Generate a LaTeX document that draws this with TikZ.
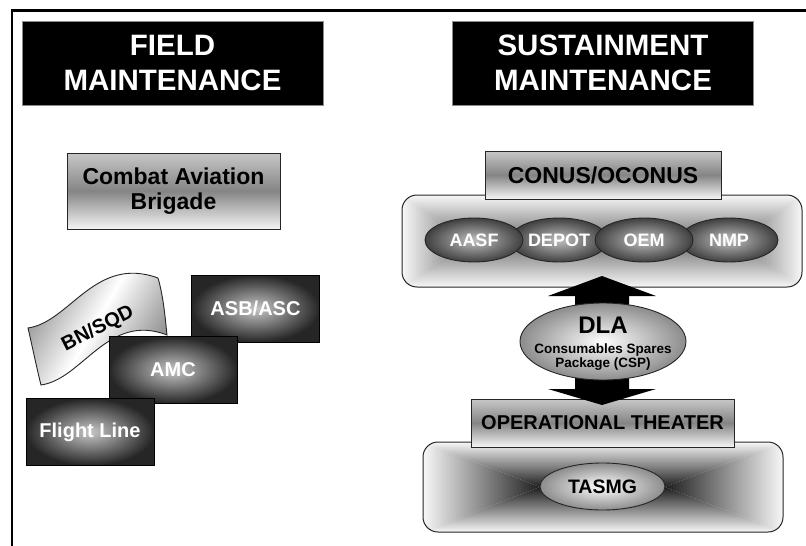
\documentclass[tikz,border=0pt]{standalone}
\usepackage{fontspec}
\setmainfont{Liberation Sans}
\usetikzlibrary{shapes.geometric}
\tikzset{
  hdr/.style={draw=black!45, line width=0.8pt, fill=black, text=white, align=center,
    inner sep=0pt, minimum width=301pt, minimum height=84pt,
    font=\bfseries\fontsize{29.5}{35}\selectfont},
  metalbox/.style={draw=black!85, line width=0.9pt, top color=black!22, bottom color=black!4,
    middle color=black!48, text=black, inner sep=0pt, align=center},
  darkbox/.style={draw=black, line width=0.9pt, inner color=black!22, outer color=black!85,
    text=white, minimum width=128pt, minimum height=67pt, inner sep=0pt,
    font=\bfseries\fontsize{20}{24}\selectfont},
  darkell/.style={ellipse, draw=black!85, line width=0.9pt, inner color=black!25,
    outer color=black!75, text=white, minimum width=98pt, minimum height=44pt,
    inner sep=0pt, font=\bfseries\fontsize{18}{20}\selectfont},
  lightell/.style={ellipse, draw=black!85, line width=0.9pt, inner color=white,
    outer color=black!45, inner sep=0pt},
  container/.style={draw=black!85, line width=1pt, rounded corners=15pt, inner sep=0pt},
  txt/.style={text=black, inner sep=0pt, anchor=base}
}
\begin{document}
\begin{tikzpicture}[x=1pt,y=-1pt]
\useasboundingbox (0,0) rectangle (806,546);
\fill[white] (0,0) rectangle (806,546);

% frame
\coordinate (ftr) at (806,10.3);
\coordinate (ftl) at (12,10.3);
\coordinate (fbl) at (12,546);
\draw[line width=2.5pt] (ftr) -- (ftl) -- (fbl);

% headers
\node[hdr] (field) at (172.5,63) {FIELD\\MAINTENANCE};
\node[hdr] (sust) at (603,63) {SUSTAINMENT\\MAINTENANCE};

% ---------- left side ----------
\node[metalbox, minimum width=213pt, minimum height=76pt,
  font=\bfseries\fontsize{23}{25}\selectfont] (cab) at (173.5,191) {Combat Aviation\\Brigade};

% BN/SQD banner
\draw[draw=black!85, line width=0.9pt, left color=black!45, right color=black!45,
  middle color=white, shading angle=60]
  (28,328) .. controls (70,322) and (95,255) .. (158,278)
  .. controls (163,295) and (165,315) .. (167,335)
  .. controls (108,312) and (83,379) .. (41,385)
  .. controls (36,365) and (32,345) .. (28,328) -- cycle;
\node[rotate=27, inner sep=0pt, font=\bfseries\fontsize{20}{24}\selectfont] (bn) at (98,329) {BN/SQD};

\node[darkbox] (asb) at (255.5,308.5) {ASB/ASC};
\node[darkbox] (amc) at (173,370) {AMC};
\node[darkbox] (fl) at (90,432) {Flight Line};

% ---------- right side ----------
% upper container gradient
\begin{scope}
  \clip[rounded corners=15pt] (402,195) rectangle (802,287);
  \shade[left color=black!3, right color=black!58] (402,195) -- (470,241) -- (402,287) -- cycle;
  \shade[left color=black!58, right color=black!3] (802,195) -- (735,241) -- (802,287) -- cycle;
  \shade[top color=black!3, bottom color=black!58] (402,195) -- (802,195) -- (735,241) -- (470,241) -- cycle;
  \shade[top color=black!58, bottom color=black!3] (402,287) -- (802,287) -- (735,241) -- (470,241) -- cycle;
\end{scope}
\node[container, minimum width=400pt, minimum height=92pt] (conus) at (602,241) {};

\node[darkell] (depot) at (559,240) {DEPOT};
\node[darkell] (nmp) at (729,240) {NMP};
\node[darkell] (aasf) at (474,240) {AASF};
\node[darkell] (oem) at (644,240) {OEM};

\node[metalbox, minimum width=236pt, minimum height=48pt,
  font=\bfseries\fontsize{23}{25}\selectfont] (conlab) at (603,175) {CONUS/OCONUS};

% lower container gradient
\begin{scope}
  \clip[rounded corners=15pt] (423,442) rectangle (783,532);
  \shade[left color=black!3, right color=black!88] (423,442) -- (540,487) -- (423,532) -- cycle;
  \shade[left color=black!88, right color=black!3] (783,442) -- (665,487) -- (783,532) -- cycle;
  \shade[top color=black!3, bottom color=black!88] (423,442) -- (783,442) -- (665,487) -- (540,487) -- cycle;
  \shade[top color=black!88, bottom color=black!3] (423,532) -- (783,532) -- (665,487) -- (540,487) -- cycle;
\end{scope}
\node[container, minimum width=360pt, minimum height=90pt] (theater) at (603,487) {};

\node[lightell, minimum width=125pt, minimum height=47pt,
  font=\bfseries\fontsize{19.5}{22}\selectfont] (tasmg) at (602.5,486.5) {TASMG};

\node[metalbox, minimum width=263pt, minimum height=48pt,
  font=\bfseries\fontsize{20}{24}\selectfont] (oplab) at (602.5,423) {OPERATIONAL THEATER};

% double block arrow
\fill[black] (602,276) -- (656,296) -- (629,296) -- (629,389) -- (656,389) -- (602,405)
  -- (548,389) -- (575,389) -- (575,296) -- (548,296) -- cycle;

% DLA
\node[lightell, minimum width=166pt, minimum height=77pt] (dla) at (603,341.5) {};
\node[txt, font=\bfseries\fontsize{24}{26}\selectfont] (dlat) at (603,333) {DLA};
\node[txt, font=\bfseries\fontsize{13.5}{15}\selectfont] (dlab) at (603,353) {Consumables Spares};
\node[txt, font=\bfseries\fontsize{13.5}{15}\selectfont] (dlac) at (603,367.5) {Package (CSP)};
\end{tikzpicture}
\end{document}
